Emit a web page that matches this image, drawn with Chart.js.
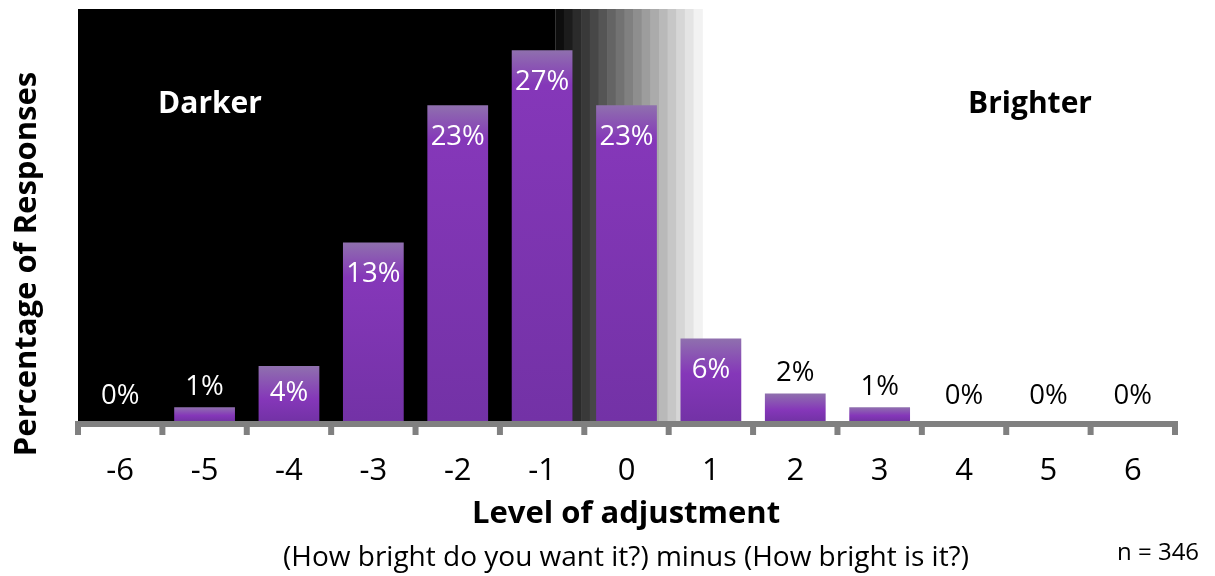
<!DOCTYPE html>
<html>
<head>
<meta charset="utf-8">
<script src="https://cdn.jsdelivr.net/npm/chart.js@4/dist/chart.umd.min.js"></script>
<style>
  html, body { margin: 0; padding: 0; background: #fff; }
  #wrap { width: 1215px; height: 576px; }
</style>
</head>
<body>
<div id="wrap"><canvas id="adjustChart" width="1215" height="576"></canvas></div>
<script>
const levels = ['-6', '-5', '-4', '-3', '-2', '-1', '0', '1', '2', '3', '4', '5', '6'];
const shares = [0, 1, 4, 13, 23, 27, 23, 6, 2, 1, 0, 0, 0];
const yTitle = 'Percentage of Responses';
const xTitle = 'Level of adjustment';
const xSubtitle = '(How bright do you want it?) minus (How bright is it?)';
const sampleNote = 'n = 346';

const FONT = '"Open Sans", "Noto Sans", sans-serif';
const AXIS_GREY = '#808080';

// dark-to-light backdrop behind the plot, stepped like a grey ramp
const backdrop = {
  id: 'backdrop',
  beforeDatasetsDraw(chart) {
    const { ctx, chartArea: a } = chart;
    const w = a.right - a.left;
    const rampStart = a.left + w * 0.435;
    const rampEnd = a.left + w * 0.569;
    const steps = 17;
    const stepW = (rampEnd - rampStart) / steps;
    ctx.save();
    ctx.fillStyle = '#000';
    ctx.fillRect(a.left, a.top, rampStart - a.left, a.bottom - a.top);
    for (let i = 0; i < steps; i++) {
      const c = Math.round(14 + i * (242 - 14) / (steps - 1));
      ctx.fillStyle = `rgb(${c},${c},${c})`;
      ctx.fillRect(rampStart + i * stepW, a.top, stepW + 0.6, a.bottom - a.top);
    }
    ctx.restore();
  }
};

// thick grey baseline with tick marks between categories, plus value labels
const axisAndLabels = {
  id: 'axisAndLabels',
  afterDatasetsDraw(chart) {
    const { ctx, chartArea: a, scales } = chart;
    const x = scales.x, y = scales.y;
    const base = y.getPixelForValue(0);
    ctx.save();
    ctx.fillStyle = AXIS_GREY;
    ctx.fillRect(a.left - 3, base, a.right - a.left + 6, 6);
    for (let i = 0; i <= levels.length; i++) {
      const px = x.getPixelForValue(i - 0.5);
      ctx.fillRect(px - 3, base, 6, 14);
    }

    const meta = chart.getDatasetMeta(0);
    const lightSide = a.left + (a.right - a.left) * 0.5;
    ctx.font = `27.5px ${FONT}`;
    ctx.textAlign = 'center';
    ctx.textBaseline = 'middle';
    meta.data.forEach((bar, i) => {
      const v = shares[i];
      const top = y.getPixelForValue(v);
      const h = base - top;
      let cy, color;
      if (h >= 45) {
        cy = top + Math.min(32, h / 2);
        color = '#fff';
      } else {
        cy = top - (v === 0 ? 25 : 20);
        color = bar.x < lightSide ? '#fff' : '#000';
      }
      ctx.fillStyle = color;
      ctx.fillText(v + '%', bar.x, cy);
    });
    ctx.restore();
  }
};

// titles and side notes
const captions = {
  id: 'captions',
  afterDraw(chart) {
    const { ctx } = chart;
    ctx.save();
    ctx.textAlign = 'center';
    ctx.textBaseline = 'alphabetic';

    ctx.font = `bold 30px ${FONT}`;
    ctx.fillStyle = '#fff';
    ctx.fillText('Darker', 210, 113);
    ctx.fillStyle = '#000';
    ctx.fillText('Brighter', 1030, 113);

    ctx.font = `bold 31px ${FONT}`;
    ctx.fillText(xTitle, 626, 523);

    ctx.font = `28px ${FONT}`;
    ctx.fillText(xSubtitle, 626, 566);

    ctx.font = `24px ${FONT}`;
    ctx.textAlign = 'left';
    ctx.fillText(sampleNote, 1117, 560);

    ctx.translate(36, 264);
    ctx.rotate(-Math.PI / 2);
    ctx.textAlign = 'center';
    ctx.font = `bold 31px ${FONT}`;
    ctx.fillText(yTitle, 0, 0);
    ctx.restore();
  }
};

function barFill(context) {
  const chart = context.chart;
  const { chartArea, scales } = chart;
  if (!chartArea || !scales.y || context.type !== 'data') return '#8537b9';
  const top = scales.y.getPixelForValue(context.raw);
  const base = scales.y.getPixelForValue(0);
  const h = base - top;
  if (h < 2) return '#8537b9';
  const g = chart.ctx.createLinearGradient(0, top, 0, base);
  g.addColorStop(0, '#8f70ae');
  g.addColorStop(Math.min(35 / h, 0.6), '#8537b9');
  g.addColorStop(1, '#7332a6');
  return g;
}

new Chart(document.getElementById('adjustChart'), {
  type: 'bar',
  data: {
    labels: levels,
    datasets: [{
      data: shares,
      backgroundColor: barFill,
      borderWidth: 0,
      barPercentage: 0.72,
      categoryPercentage: 1
    }]
  },
  options: {
    responsive: false,
    animation: false,
    layout: { padding: { left: 78, right: 40, top: 9, bottom: 0 } },
    plugins: {
      legend: { display: false },
      tooltip: { enabled: false }
    },
    scales: {
      x: {
        grid: { display: false, drawTicks: false },
        border: { display: false },
        ticks: {
          color: '#000',
          padding: 32,
          font: { family: FONT, size: 31 }
        },
        afterFit(scale) { scale.height = 155; }
      },
      y: {
        display: false,
        min: 0,
        max: 30
      }
    }
  },
  plugins: [backdrop, axisAndLabels, captions]
});
</script>
</body>
</html>
